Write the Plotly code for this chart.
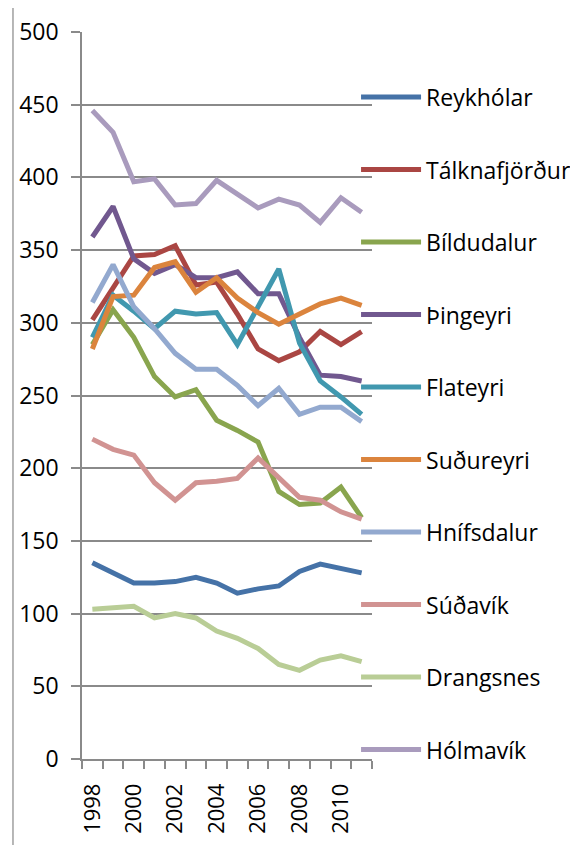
import plotly.graph_objects as go

years = list(range(1998, 2012))

reykholar = [135, 128, 121, 121, 122, 125, 121, 114, 117, 119, 129, 134, 131, 128]
talknafjordur = [302, 324, 346, 347, 353, 326, 328, 306, 282, 274, 280, 294, 285, 294]
bildudalur = [285, 309, 290, 263, 249, 254, 233, 226, 218, 184, 175, 176, 187, 166]
thingeyri = [359, 380, 344, 334, 340, 331, 331, 335, 320, 320, 290, 264, 263, 260]
flateyri = [290, 319, 308, 296, 308, 306, 307, 285, 311, 337, 286, 260, 249, 237]
sudureyri = [282, 318, 319, 338, 342, 321, 331, 317, 307, 299, 306, 313, 317, 312]
hnifsdalur = [314, 340, 311, 296, 279, 268, 268, 257, 243, 255, 237, 242, 242, 232]
sudavik = [220, 213, 209, 190, 178, 190, 191, 193, 207, 194, 180, 178, 170, 165]
drangsnes = [103, 104, 105, 97, 100, 97, 88, 83, 76, 65, 61, 68, 71, 67]
holmavik = [446, 431, 397, 399, 381, 382, 398, 389, 379, 385, 381, 369, 386, 376]

series = [
    ("Reykhólar", reykholar, "#4572A7"),
    ("Tálknafjörður", talknafjordur, "#AA4643"),
    ("Bíldudalur", bildudalur, "#89A54E"),
    ("Þingeyri", thingeyri, "#71588F"),
    ("Flateyri", flateyri, "#4198AF"),
    ("Suðureyri", sudureyri, "#DB843D"),
    ("Hnífsdalur", hnifsdalur, "#93A9CF"),
    ("Súðavík", sudavik, "#D19392"),
    ("Drangsnes", drangsnes, "#B9CD96"),
    ("Hólmavík", holmavik, "#A99BBD"),
]

GRID = "#8A8A8A"
FONT = "Open Sans"

fig = go.Figure()
for name, vals, color in series:
    fig.add_trace(
        go.Scatter(
            x=years,
            y=vals,
            name=name,
            mode="lines",
            legendgroup=name,
            line={"color": color, "width": 5},
        )
    )

# page body has an 8px margin, so the figure is a bit smaller than the window
fig.update_layout(
    width=570,
    height=837,
    margin={"l": 74, "r": 206, "t": 24, "b": 86, "autoexpand": False},
    paper_bgcolor="white",
    plot_bgcolor="white",
    font={"family": FONT, "size": 22, "color": "#000000"},
    showlegend=True,
    legend={
        "x": 0.945,
        "xanchor": "left",
        "y": 0.94,
        "yanchor": "top",
        "tracegroupgap": 39.6,
        "itemwidth": 60,
        "font": {"family": FONT, "size": 23},
        "bgcolor": "rgba(0,0,0,0)",
    },
)

fig.update_yaxes(
    range=[0, 500],
    dtick=50,
    showgrid=True,
    gridcolor=GRID,
    gridwidth=1.5,
    showline=True,
    linecolor=GRID,
    linewidth=1.5,
    ticks="outside",
    ticklen=9,
    tickcolor=GRID,
    tickwidth=1.5,
    ticklabelstandoff=8,
    zeroline=False,
    tickfont={"family": FONT, "size": 23},
)

fig.update_xaxes(
    range=[1997.5, 2011.5],
    tickvals=[1998, 2000, 2002, 2004, 2006, 2008, 2010],
    tickangle=-90,
    ticks="",
    showgrid=False,
    showline=True,
    linecolor=GRID,
    linewidth=1.5,
    zeroline=False,
    ticklabelstandoff=14,
    minor={
        "tick0": 1997.5,
        "dtick": 1,
        "ticks": "outside",
        "ticklen": 8,
        "tickcolor": GRID,
        "tickwidth": 1.5,
        "showgrid": False,
    },
    tickfont={"family": FONT, "size": 22},
)

# outer chart-area frame
fig.add_shape(
    type="rect",
    xref="paper",
    yref="paper",
    x0=-0.238,
    x1=1.8,
    y0=-0.2,
    y1=1.0385,
    line={"color": "#A0A0A0", "width": 1.5},
    fillcolor="rgba(0,0,0,0)",
    layer="below",
)

fig.write_html("out.html")
